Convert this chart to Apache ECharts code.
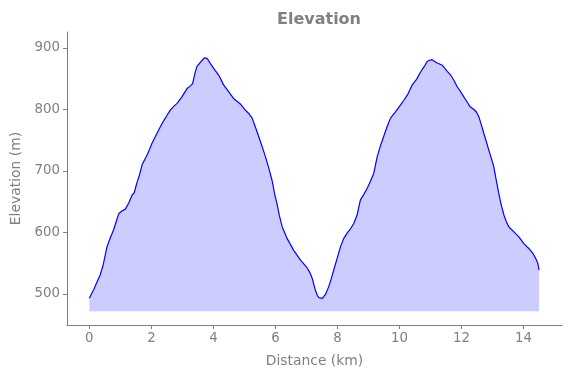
<!DOCTYPE html>
<html>
<head>
<meta charset="utf-8">
<script src="https://cdn.jsdelivr.net/npm/echarts@6/dist/echarts.min.js"></script>
<style>
html,body{margin:0;padding:0;background:#fff;}
#chart{width:571px;height:378px;}
</style>
</head>
<body>
<div id="chart"></div>
<script>
var distanceKm = [0,0.05,0.15,0.25,0.35,0.45,0.57,0.68,0.78,0.88,0.95,1.05,1.16,1.27,1.38,1.45,1.54,1.62,1.70,1.78,1.86,1.94,2.02,2.15,2.29,2.40,2.51,2.61,2.72,2.83,2.99,3.15,3.25,3.33,3.40,3.47,3.60,3.71,3.80,3.90,4.01,4.17,4.33,4.49,4.65,4.87,5.03,5.15,5.25,5.35,5.46,5.57,5.68,5.78,5.89,5.97,6.05,6.13,6.22,6.38,6.59,6.81,7.03,7.12,7.19,7.24,7.29,7.35,7.40,7.51,7.62,7.72,7.80,7.88,7.99,8.10,8.20,8.31,8.42,8.53,8.63,8.74,8.85,8.96,9.06,9.17,9.28,9.38,9.49,9.60,9.71,9.87,10.00,10.14,10.27,10.41,10.55,10.68,10.80,10.89,10.97,11.05,11.20,11.38,11.43,11.54,11.65,11.75,11.86,11.97,12.07,12.17,12.27,12.40,12.48,12.56,12.64,12.72,12.80,12.88,12.96,13.04,13.12,13.20,13.28,13.37,13.45,13.53,13.69,13.85,14.01,14.17,14.30,14.39,14.46,14.50];
var elevationM = [493,495,508,520,531,548,577,592,604,620,631,635,638,648,661,665,682,694,710,718,726,735,745,758,772,782,791,799,805,810,821,834,838,842,858,870,878,884,883,875,867,856,840,829,818,809,799,793,786,772,756,740,723,706,685,664,647,627,609,590,571,555,542,534,525,515,506,498,494,493,500,512,525,539,558,577,590,599,606,615,628,653,662,672,683,696,723,740,756,772,786,796,805,815,825,840,849,861,870,878,880,881,876,872,872,862,856,848,837,829,821,813,805,800,796,788,775,761,748,734,721,707,685,664,645,628,617,609,601,593,582,574,566,558,550,539];
var yTicks = [500,600,700,800,900];
var xTicks = [0,2,4,6,8,10,12,14];
var titleText = 'Elevation';
var xName = 'Distance (km)';
var yName = 'Elevation (m)';

var pts = distanceKm.map(function(d,i){return [d, elevationM[i]];});
var gray = '#808080';
var chart = echarts.init(document.getElementById('chart'), null, {renderer:'canvas'});
chart.setOption({
  animation:false,
  backgroundColor:'#fff',
  title:{text:titleText,left:314,top:7,textAlign:'center',
    textStyle:{fontFamily:'DejaVu Sans',fontWeight:'bold',fontSize:16,color:gray}},
  grid:{left:67,right:9,top:32,bottom:53,containLabel:false},
  xAxis:{type:'value',min:-0.72,max:15.24,
    name:xName,nameLocation:'middle',nameGap:29.5,
    nameTextStyle:{fontFamily:'DejaVu Sans',fontSize:13.9,color:gray},
    axisLine:{show:true,onZero:false,lineStyle:{color:gray,width:1}},
    axisTick:{show:true,length:4,lineStyle:{color:gray},customValues:xTicks},
    axisLabel:{fontFamily:'DejaVu Sans',fontSize:13.3,color:gray,margin:7,customValues:xTicks,showMinLabel:true,showMaxLabel:true},
    splitLine:{show:false}},
  yAxis:{type:'value',min:449.6,max:926,
    name:yName,nameLocation:'middle',nameGap:44,nameRotate:90,
    nameTextStyle:{fontFamily:'DejaVu Sans',fontSize:13.9,color:gray},
    axisLine:{show:true,onZero:false,lineStyle:{color:gray,width:1}},
    axisTick:{show:true,length:4,lineStyle:{color:gray},customValues:yTicks},
    axisLabel:{fontFamily:'DejaVu Sans',fontSize:13.3,color:gray,margin:7,customValues:yTicks},
    splitLine:{show:false}},
  series:[{
    type:'line',data:pts,showSymbol:false,symbol:'none',
    lineStyle:{color:'#0000ff',width:1.2},
    areaStyle:{color:'#ccccff',opacity:1,origin:472},
    z:2
  }]
});
</script>
</body>
</html>
